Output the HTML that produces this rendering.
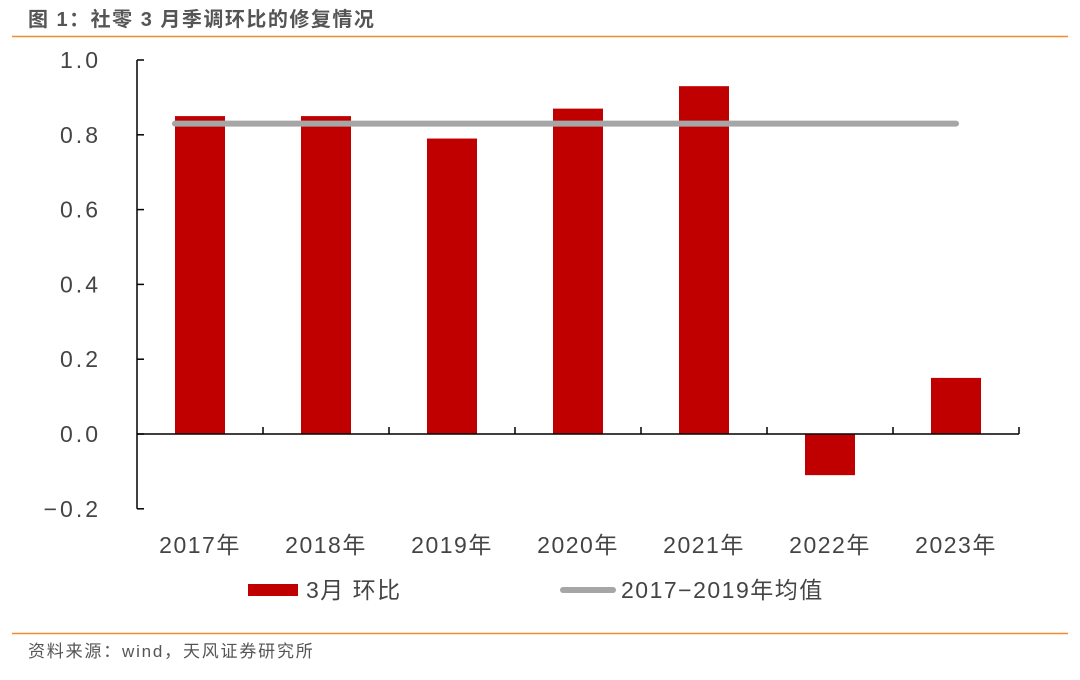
<!DOCTYPE html>
<html><head><meta charset="utf-8">
<style>
body{margin:0;background:#fff;width:1080px;height:675px;overflow:hidden;font-family:"Liberation Sans","Noto Sans CJK SC",sans-serif;}
</style></head>
<body>
<svg width="1080" height="675" xmlns="http://www.w3.org/2000/svg">
<text x="28" y="26" font-size="20" font-weight="bold" fill="#555" letter-spacing="1.5" font-family="Liberation Sans, Noto Sans CJK SC, sans-serif">图 1：社零 3 月季调环比的修复情况</text>
<line x1="12" y1="36.5" x2="1068" y2="36.5" stroke="#f28a2e" stroke-width="1.5"/>
<g id="plot"></g>
<line x1="12" y1="633.5" x2="1068" y2="633.5" stroke="#f28a2e" stroke-width="1.5"/>
<text x="28" y="657" font-size="17" fill="#555" letter-spacing="1.8" font-family="Liberation Sans, Noto Sans CJK SC, sans-serif">资料来源：wind，天风证券研究所</text>
</svg>
<script>
const categories=["2017年","2018年","2019年","2020年","2021年","2022年","2023年"];
const marchMoM=[0.85,0.85,0.79,0.87,0.93,-0.11,0.15];
const avgValue=[0.83];
const yTicks=[1.0,0.8,0.6,0.4,0.2,0.0,-0.2];
const yTickLabels=["1.0","0.8","0.6","0.4","0.2","0.0","−0.2"];
const legendLabels=["3月 环比","2017−2019年均值"];

const NS="http://www.w3.org/2000/svg";
const g=document.getElementById('plot');
const x0=137,catW=126,barW=50;
const y=v=>434-(v)*374;
const cx=i=>x0+catW*(i+0.5);
function el(t,a,txt){const e=document.createElementNS(NS,t);for(const k in a)e.setAttribute(k,a[k]);if(txt!=null)e.textContent=txt;g.appendChild(e);return e;}
marchMoM.forEach((v,i)=>{
 const r=el('rect',{x:cx(i)-barW/2,y:Math.min(y(v),y(0)),width:barW,height:Math.abs(y(v)-y(0)),fill:'#c00000'});
 
 
});
const ya=el('line',{x1:x0,y1:y(1),x2:x0,y2:y(-0.2),stroke:'#000','stroke-width':1.5});


yTicks.forEach((v,i)=>{
 const t=el('line',{x1:x0,y1:y(v),x2:x0+7,y2:y(v),stroke:'#000','stroke-width':1.5});
 
 
 const l=el('text',{x:101,y:y(v)+8,'font-size':23,fill:'#444','text-anchor':'end','letter-spacing':'3'},yTickLabels[i]);
 
 
});
const xa=el('line',{x1:x0,y1:y(0),x2:x0+catW*categories.length,y2:y(0),stroke:'#000','stroke-width':1.5});


categories.forEach((c,i)=>{
 const t=el('line',{x1:x0+catW*(i+1),y1:y(0),x2:x0+catW*(i+1),y2:y(0)-7,stroke:'#000','stroke-width':1.5});
 
 
 const l=el('text',{x:cx(i),y:553,'font-size':23,fill:'#444','text-anchor':'middle','letter-spacing':'1.5'},c);
 
 
});
const al=el('line',{x1:cx(0)-25,y1:y(avgValue[0]),x2:cx(6),y2:y(avgValue[0]),stroke:'#a6a6a6','stroke-width':6,'stroke-linecap':'round'});


const lb=el('rect',{x:248,y:584,width:50,height:12,fill:'#c00000'});


const lt=el('text',{x:306,y:598,'font-size':23,fill:'#444','letter-spacing':'1.5'},legendLabels[0]);


const ll=el('line',{x1:563,y1:590,x2:613,y2:590,stroke:'#a6a6a6','stroke-width':6,'stroke-linecap':'round'});


const lt2=el('text',{x:621,y:598,'font-size':23,fill:'#444','letter-spacing':'1.5'},legendLabels[1]);


</script>
</body></html>
